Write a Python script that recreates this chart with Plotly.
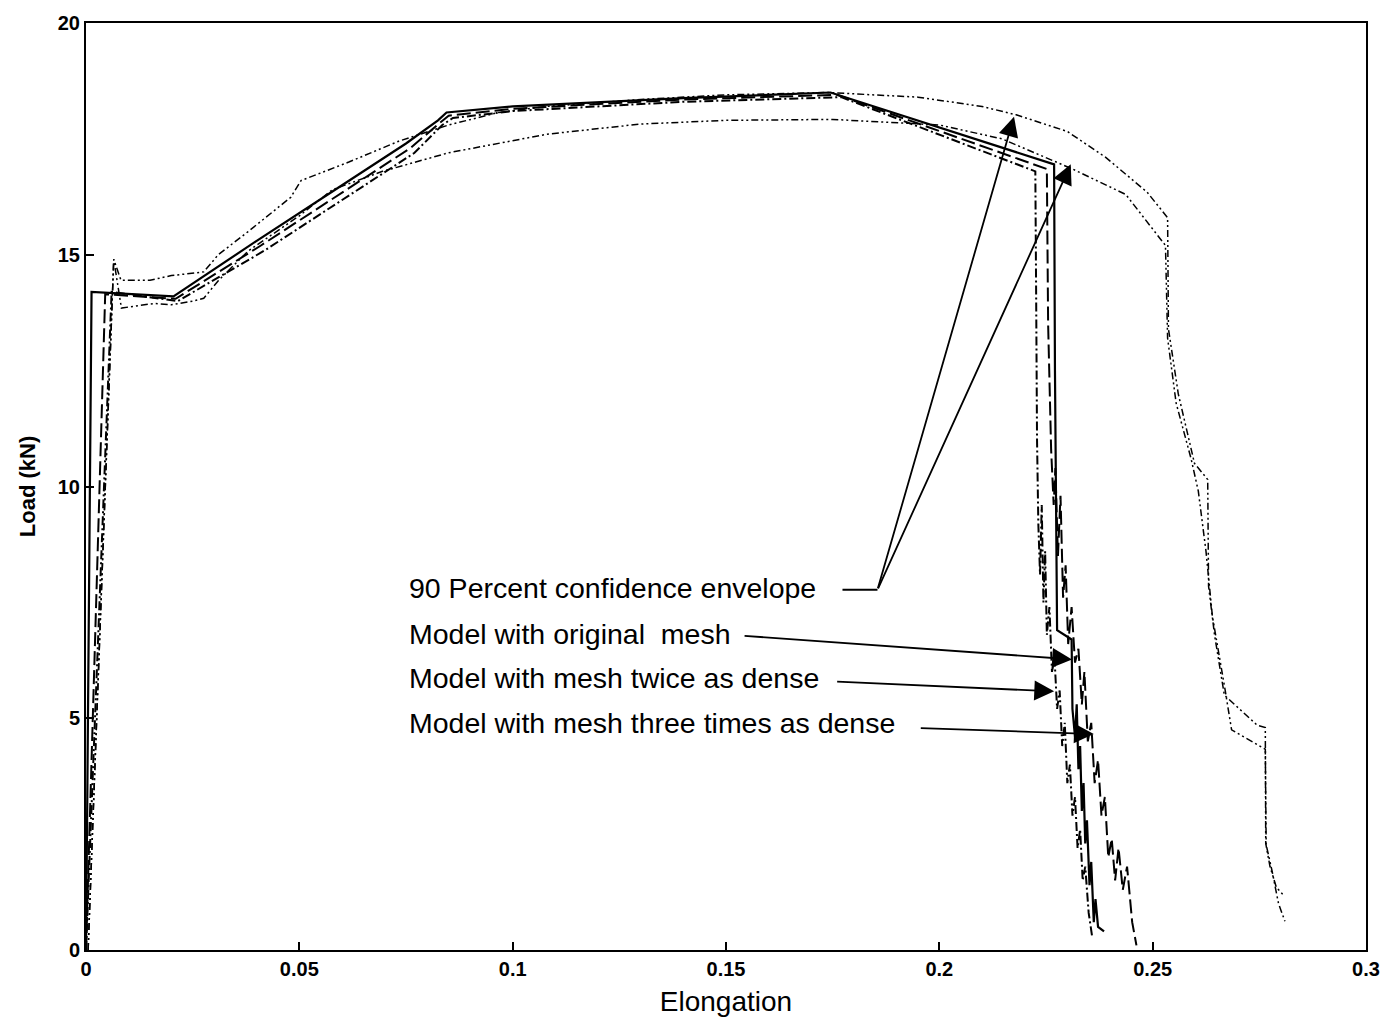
import plotly.graph_objects as go

# ---------------- data ----------------
env_hi_x = [0.0005, 0.0065, 0.0082, 0.015, 0.020, 0.0276, 0.031, 0.038, 0.048, 0.0504, 0.0616,
            0.0733, 0.085, 0.0967, 0.108, 0.130, 0.150, 0.174, 0.195, 0.210, 0.218, 0.230,
            0.239, 0.2487, 0.2535, 0.2537, 0.2560, 0.2598, 0.2629, 0.2631, 0.2645, 0.2668,
            0.2745, 0.2764, 0.2765, 0.2775, 0.2790, 0.2805]
env_hi_y = [0.0, 14.9, 14.45, 14.45, 14.55, 14.63, 15.0, 15.5, 16.24, 16.6, 17.0,
            17.45, 17.8, 18.07, 18.2, 18.35, 18.45, 18.5, 18.4, 18.2, 18.02, 17.66,
            17.1, 16.35, 15.8, 13.4, 12.0, 10.5, 10.15, 7.85, 6.8, 5.5,
            4.85, 4.8, 2.3, 1.8, 1.35, 1.2]

env_lo_x = [0.0005, 0.0065, 0.0083, 0.012, 0.016, 0.020, 0.025, 0.0276, 0.031, 0.038, 0.050,
            0.0577, 0.0695, 0.085, 0.108, 0.130, 0.150, 0.175, 0.200, 0.2147, 0.2312, 0.2437,
            0.2530, 0.2535, 0.2555, 0.2590, 0.2607, 0.2625, 0.2640, 0.2670, 0.2685, 0.2764,
            0.2766, 0.2780, 0.2795, 0.2810]
env_lo_y = [0.0, 14.9, 13.85, 13.9, 13.95, 13.92, 14.0, 14.06, 14.44, 15.08, 15.84,
            16.4, 16.8, 17.2, 17.6, 17.82, 17.9, 17.92, 17.8, 17.5, 16.85, 16.3,
            15.2, 13.2, 11.8, 10.6, 9.9, 8.6, 7.2, 5.6, 4.75, 4.33,
            2.27, 1.7, 1.0, 0.62]

orig_x = [0.0, 0.0013, 0.0205, 0.040, 0.060, 0.075, 0.0825, 0.0845, 0.100, 0.140, 0.1745,
          0.2269, 0.2271, 0.2274, 0.2276, 0.2310, 0.2312, 0.2318, 0.2322, 0.2326, 0.2330,
          0.2334, 0.2338, 0.2342, 0.2346, 0.2352, 0.2356, 0.2362, 0.2366, 0.2372, 0.2386]
orig_y = [0.0, 14.2, 14.1, 15.3, 16.5, 17.4, 17.9, 18.07, 18.2, 18.38, 18.5,
          16.95, 12.5, 9.0, 6.9, 6.7, 5.2, 4.6, 5.3, 3.9, 4.4,
          3.0, 3.6, 2.3, 2.8, 1.4, 1.9, 0.6, 1.1, 0.5, 0.4]

twice_x = [0.0, 0.0045, 0.0210, 0.041, 0.061, 0.076, 0.0830, 0.0850, 0.100, 0.140, 0.176,
           0.2252, 0.2255, 0.2262, 0.2268, 0.2272, 0.2278, 0.2284, 0.2290, 0.2296, 0.2302,
           0.2310, 0.2318, 0.2326, 0.2334, 0.2340, 0.2348, 0.2356, 0.2364, 0.2372, 0.2380,
           0.2388, 0.2396, 0.2404, 0.2412, 0.2420, 0.2430, 0.2440, 0.2452, 0.2462]
twice_y = [0.0, 14.15, 14.05, 15.2, 16.4, 17.3, 17.85, 18.0, 18.15, 18.35, 18.45,
           16.85, 13.5, 10.8, 9.6, 10.4, 8.5, 9.8, 7.6, 8.3, 6.6,
           7.4, 6.2, 6.5, 5.3, 6.0, 4.5, 4.9, 3.6, 4.1, 2.9,
           3.3, 2.0, 2.4, 1.5, 2.2, 1.3, 1.8, 0.6, 0.1]

three_x = [0.0, 0.0060, 0.0215, 0.042, 0.062, 0.077, 0.0835, 0.0860, 0.100, 0.140, 0.177,
           0.2225, 0.2227, 0.2229, 0.2232, 0.2236, 0.2240, 0.2244, 0.2248, 0.2252, 0.2258,
           0.2264, 0.2270, 0.2276, 0.2282, 0.2288, 0.2294, 0.2300, 0.2306, 0.2312, 0.2318,
           0.2324, 0.2330, 0.2336, 0.2342, 0.2350, 0.2358]
three_y = [0.0, 14.2, 14.0, 15.1, 16.3, 17.2, 17.8, 17.95, 18.1, 18.3, 18.4,
           16.8, 14.0, 11.0, 9.2, 8.1, 9.6, 7.5, 8.6, 6.8, 7.4,
           6.0, 6.3, 5.2, 5.6, 4.4, 4.9, 3.6, 4.0, 2.9, 3.3,
           2.2, 2.6, 1.5, 1.8, 0.8, 0.3]

x_ticks = [0, 0.05, 0.1, 0.15, 0.2, 0.25, 0.3]
x_tick_text = ["0", "0.05", "0.1", "0.15", "0.2", "0.25", "0.3"]
y_ticks = [0, 5, 10, 15, 20]
y_tick_text = ["0", "5", "10", "15", "20"]

label_env = "90 Percent confidence envelope"
label_orig = "Model with original  mesh"
label_twice = "Model with mesh twice as dense"
label_three = "Model with mesh three times as dense"

# ---------------- figure ----------------
fig = go.Figure()
fig.add_trace(go.Scatter(x=env_hi_x, y=env_hi_y, mode="lines",
                         line=dict(color="black", width=1.5, dash="7px,3px,2px,3px,2px,3px")))
fig.add_trace(go.Scatter(x=env_lo_x, y=env_lo_y, mode="lines",
                         line=dict(color="black", width=1.5, dash="7px,3px,2px,3px,2px,3px")))
fig.add_trace(go.Scatter(x=three_x, y=three_y, mode="lines",
                         line=dict(color="black", width=2, dash="9px,3px,2px,3px")))
fig.add_trace(go.Scatter(x=twice_x, y=twice_y, mode="lines",
                         line=dict(color="black", width=2, dash="14px,5px")))
fig.add_trace(go.Scatter(x=orig_x, y=orig_y, mode="lines",
                         line=dict(color="black", width=2.2)))

tfont = dict(family="Liberation Sans, Arial, sans-serif", size=28.5, color="black")
text_x = 0.0752
for txt, ty in [(label_env, 7.81), (label_orig, 6.82), (label_twice, 5.86), (label_three, 4.89)]:
    fig.add_annotation(x=text_x, y=ty, xref="x", yref="y", text=txt, showarrow=False,
                       xanchor="left", yanchor="middle", font=tfont)

# connector for envelope label
fig.add_shape(type="line", xref="x", yref="y", x0=0.1773, y0=7.77, x1=0.1855, y1=7.77,
              line=dict(color="black", width=2))

arrows = [
    (0.1855, 7.77, 0.2175, 17.98),
    (0.1855, 7.77, 0.2308, 16.95),
    (0.1540, 6.78, 0.2311, 6.27),
    (0.1757, 5.79, 0.2269, 5.58),
    (0.1953, 4.79, 0.2362, 4.66),
]
for ax0, ay0, x1, y1 in arrows:
    fig.add_annotation(x=x1, y=y1, ax=ax0, ay=ay0, xref="x", yref="y", axref="x", ayref="y",
                       text="", showarrow=True, arrowhead=2, arrowsize=2.2, arrowwidth=1.8,
                       arrowcolor="black", standoff=0, startstandoff=0)

fig.update_layout(
    width=1392, height=1028,
    margin=dict(l=86, r=22, t=18, b=78),
    paper_bgcolor="white", plot_bgcolor="white",
    showlegend=False,
    font=dict(family="Liberation Sans, Arial, sans-serif", color="black"),
)
fig.update_xaxes(range=[0, 0.3], tickvals=x_ticks, ticktext=x_tick_text,
                 ticks="inside", ticklen=8, tickwidth=1.5, tickcolor="black",
                 showline=True, linecolor="black", linewidth=2, mirror=True,
                 showgrid=False, zeroline=False,
                 tickfont=dict(size=20, weight="bold"),
                 title=dict(text="Elongation", font=dict(size=28), standoff=12))
fig.update_yaxes(range=[0, 20], tickvals=y_ticks, ticktext=y_tick_text,
                 ticks="inside", ticklen=8, tickwidth=1.5, tickcolor="black",
                 showline=True, linecolor="black", linewidth=2, mirror=True,
                 showgrid=False, zeroline=False,
                 tickfont=dict(size=20, weight="bold"),
                 title=dict(text="Load (kN)", font=dict(size=22, weight="bold"), standoff=16))

fig.write_html("out.html")
